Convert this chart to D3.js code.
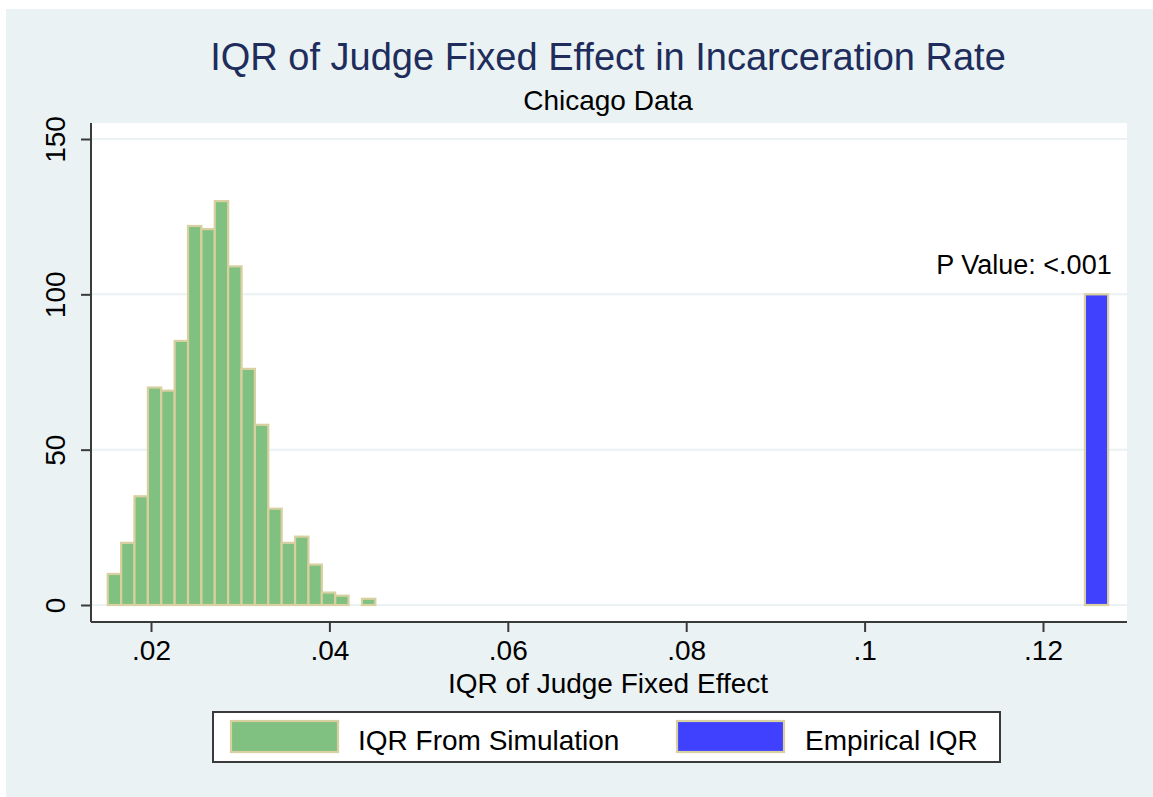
<!DOCTYPE html>
<html>
<head>
<meta charset="utf-8">
<script src="https://cdn.jsdelivr.net/npm/d3@7"></script>
<style>
  html, body { margin: 0; padding: 0; background: #ffffff; }
  svg { display: block; }
  text { font-family: "Liberation Sans", Arial, sans-serif; }
</style>
</head>
<body>
<script>
// ---------------- Data ----------------
const binStart = 0.01515;           // left edge of first simulation bin
const binWidth = 0.0015;            // width of each simulation bin
const simCounts = [10, 20, 35, 70, 69, 85, 122, 121, 130, 109, 76, 58, 31, 20, 22, 13, 4, 3, 0, 2];
const empiricalIQR = [0.1247];      // left edge of empirical bar
const empiricalWidth = 0.0026;
const empiricalCount = [100];
const xTicks = [0.02, 0.04, 0.06, 0.08, 0.10, 0.12];
const xTickLabels = [".02", ".04", ".06", ".08", ".1", ".12"];
const yTicks = [0, 50, 100, 150];
const yTickLabels = ["0", "50", "100", "150"];
const legendLabels = ["IQR From Simulation", "Empirical IQR"];
const titleText = "IQR of Judge Fixed Effect in Incarceration Rate";
const subtitleText = "Chicago Data";
const xTitle = "IQR of Judge Fixed Effect";
const pValueText = "P Value: <.001";

// ---------------- Layout ----------------
const W = 1153, H = 797;
const plot = { left: 91, right: 1127, top: 123, bottom: 622 };
const colors = {
  bg: "#EAF2F3", grid: "#EAF2F3", green: "#80C080", blue: "#4040FF",
  outline: "#D8D0A0", axis: "#3a3a3a", title: "#1E2D5C", text: "#000000"
};

const svg = d3.select("body").append("svg").attr("width", W).attr("height", H);

svg.append("rect").attr("x", 6).attr("y", 9).attr("width", W - 6).attr("height", H - 9)
  .attr("fill", colors.bg);

svg.append("rect").attr("x", plot.left).attr("y", plot.top)
  .attr("width", plot.right - plot.left).attr("height", plot.bottom - plot.top)
  .attr("fill", "#ffffff");

const x = d3.scaleLinear().domain([0.02, 0.12]).range([151, 1043]);
const y = d3.scaleLinear().domain([0, 150]).range([605, 139]);

// gridlines
svg.append("g").selectAll("line").data(yTicks).join("line")
  .attr("x1", plot.left).attr("x2", plot.right)
  .attr("y1", d => y(d)).attr("y2", d => y(d))
  .attr("stroke", colors.grid).attr("stroke-width", 2);

// simulation bars
const simData = simCounts.map((c, i) => ({ x0: binStart + i * binWidth, x1: binStart + (i + 1) * binWidth, c }));
svg.append("g").selectAll("rect").data(simData.filter(d => d.c > 0)).join("rect")
  .attr("x", d => x(d.x0)).attr("width", d => x(d.x1) - x(d.x0))
  .attr("y", d => y(d.c)).attr("height", d => y(0) - y(d.c))
  .attr("fill", colors.green).attr("stroke", colors.outline).attr("stroke-width", 2.2);

// empirical bar
svg.append("g").selectAll("rect").data(empiricalIQR.map((v, i) => ({ x0: v, x1: v + empiricalWidth, c: empiricalCount[i] }))).join("rect")
  .attr("x", d => x(d.x0)).attr("width", d => x(d.x1) - x(d.x0))
  .attr("y", d => y(d.c)).attr("height", d => y(0) - y(d.c))
  .attr("fill", colors.blue).attr("stroke", colors.outline).attr("stroke-width", 2.2);

// P value annotation
svg.append("text").attr("x", x(0.1277)).attr("y", 274)
  .attr("text-anchor", "end").attr("font-size", 27).attr("fill", colors.text)
  .text(pValueText);

// x axis
const xAxis = d3.axisBottom(x).tickValues(xTicks).tickSize(10).tickPadding(6)
  .tickFormat((d, i) => xTickLabels[i]);
const gx = svg.append("g").attr("transform", `translate(0,${plot.bottom})`).call(xAxis);
gx.select(".domain").remove();
gx.append("line").attr("x1", plot.left).attr("x2", plot.right).attr("y1", 0).attr("y2", 0)
  .attr("stroke", colors.axis).attr("stroke-width", 2);
gx.selectAll(".tick line").attr("stroke", colors.axis).attr("stroke-width", 2);
gx.selectAll(".tick text").attr("font-size", 28).attr("fill", colors.text)
  .attr("font-family", "Liberation Sans, Arial, sans-serif").attr("dy", "0.78em");

// y axis
const yAxis = d3.axisLeft(y).tickValues(yTicks).tickSize(10).tickPadding(0)
  .tickFormat((d, i) => yTickLabels[i]);
const gy = svg.append("g").attr("transform", `translate(${plot.left},0)`).call(yAxis);
gy.select(".domain").remove();
gy.append("line").attr("x1", 0).attr("x2", 0).attr("y1", plot.top).attr("y2", plot.bottom)
  .attr("stroke", colors.axis).attr("stroke-width", 2);
gy.selectAll(".tick line").attr("stroke", colors.axis).attr("stroke-width", 2);
gy.selectAll(".tick text")
  .attr("font-size", 28).attr("fill", colors.text)
  .attr("font-family", "Liberation Sans, Arial, sans-serif")
  .attr("x", null).attr("dy", null)
  .attr("text-anchor", "middle")
  .attr("transform", "translate(-26,0) rotate(-90)");

// titles
svg.append("text").attr("x", 608).attr("y", 70).attr("text-anchor", "middle")
  .attr("font-size", 38).attr("fill", colors.title).text(titleText);
svg.append("text").attr("x", 608).attr("y", 110).attr("text-anchor", "middle")
  .attr("font-size", 28).attr("fill", colors.text).text(subtitleText);
svg.append("text").attr("x", 608).attr("y", 693).attr("text-anchor", "middle")
  .attr("font-size", 28).attr("fill", colors.text).text(xTitle);

// legend
const lg = svg.append("g");
lg.append("rect").attr("x", 213).attr("y", 712).attr("width", 787).attr("height", 50)
  .attr("fill", "#ffffff").attr("stroke", colors.axis).attr("stroke-width", 2);
const legItems = [
  { label: legendLabels[0], color: colors.green, sx: 231, tx: 358 },
  { label: legendLabels[1], color: colors.blue, sx: 677, tx: 805 }
];
lg.selectAll("rect.sw").data(legItems).join("rect").attr("class", "sw")
  .attr("x", d => d.sx).attr("y", 721).attr("width", 107).attr("height", 31)
  .attr("fill", d => d.color).attr("stroke", colors.outline).attr("stroke-width", 2.2);
lg.selectAll("text").data(legItems).join("text")
  .attr("x", d => d.tx).attr("y", 750).attr("font-size", 28).attr("fill", colors.text)
  .text(d => d.label);
</script>
</body>
</html>
